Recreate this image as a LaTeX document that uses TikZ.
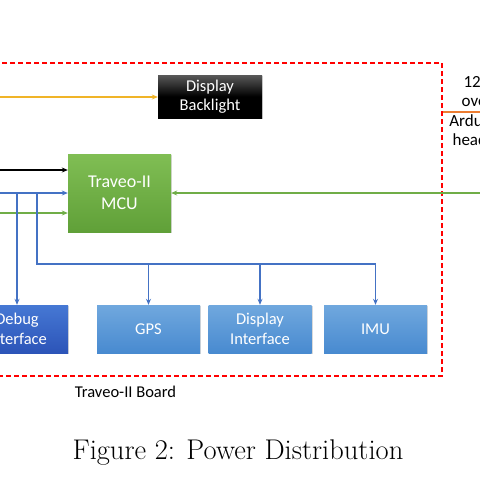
\documentclass[tikz,border=0pt]{standalone}
\usepackage{fontspec}
\newfontfamily\boxfont{Carlito}
\usetikzlibrary{arrows.meta, shadows}
\definecolor{brdred}{RGB}{255, 0, 0}
\definecolor{pwryellow}{RGB}{240, 180, 40}
\definecolor{pwrorange}{RGB}{237, 125, 49}
\definecolor{pwrgreen}{RGB}{112, 173, 71}
\definecolor{pwrblue}{RGB}{68, 114, 196}
\definecolor{mcutop}{RGB}{128, 190, 84}
\definecolor{mcubot}{RGB}{96, 160, 56}
\definecolor{modtop}{RGB}{112, 168, 222}
\definecolor{modbot}{RGB}{72, 138, 208}
\definecolor{dbgtop}{RGB}{70, 120, 212}
\definecolor{dbgbot}{RGB}{44, 84, 184}

\begin{document}
\begin{tikzpicture}[x=1pt, y=-1pt, >={Stealth[length=6pt, width=5pt]}]

% === Marco ===
\useasboundingbox (0,0) rectangle (480,480);
\clip (0,0) rectangle (480,480);

% === Estilos ===
\tikzset{
    modbox/.style={minimum width=103pt, minimum height=48pt, inner sep=2pt,
        align=center, text=white, font=\boxfont\fontsize{16.5}{19.5}\selectfont,
        drop shadow={opacity=0.3, shadow xshift=1pt, shadow yshift=-1.2pt}},
    bluebox/.style={modbox, top color=modtop, bottom color=modbot},
    wire/.style={line width=1.4pt},
}

% === Placa ===
\node[draw=brdred, line width=1.6pt, dash pattern=on 5pt off 3pt,
    minimum width=452pt, minimum height=313pt] (board) at (216, 219.5) {};
\node[font=\boxfont\fontsize{16.5}{19.5}\selectfont] (brdlbl) at (125.5, 392) {Traveo-II Board};

% === Bloques ===
\node[modbox, minimum width=104pt, minimum height=43pt,
    top color=black!65, bottom color=black, middle color=black] (blight) at (210, 96.5) {Display\\Backlight};
\node[modbox, minimum height=78pt, top color=mcutop, bottom color=mcubot,
    font=\boxfont\fontsize{18}{22}\selectfont] (mcu) at (119.5, 193) {Traveo-II\\MCU};
\node[modbox, minimum width=102pt, top color=dbgtop, bottom color=dbgbot] (dbg) at (17, 329) {Debug\\Interface};
\node[bluebox] (gps) at (148.5, 329) {GPS};
\node[bluebox] (disp) at (260, 329) {Display\\Interface};
\node[bluebox] (imu) at (375.5, 329) {IMU};

% Texto de la alimentacion externa
\node[font=\boxfont\fontsize{17}{19.5}\selectfont, align=center] (hdr) at (477, 111) {12V\\over\\Arduino\\header};

% === Puntos de entrada / ramificacion ===
\coordinate (ylwin) at (-5, 97);
\coordinate (blkin) at (-5, 170);
\coordinate (bluin) at (-5, 193);
\coordinate (grnin) at (-5, 213);
\coordinate (brkA) at (17, 193);
\coordinate (brkB) at (37, 193);
\coordinate (busL) at (37, 264);
\coordinate (busR) at (375.5, 264);
\coordinate (grnR) at (490, 193);
\coordinate (orgR) at (490, 112);

% === Conexiones ===
\draw[wire, pwryellow, ->] (ylwin) -- (ylwin -| blight.west);
\draw[wire, black, ->] (blkin) -- (blkin -| mcu.west);
\draw[wire, pwrblue, ->] (bluin) -- (bluin -| mcu.west);
\draw[wire, pwrgreen, ->] (grnin) -- (grnin -| mcu.west);
\draw[wire, pwrgreen, ->] (grnR) -- (grnR -| mcu.east);
\draw[wire, pwrorange] (orgR -| board.east) -- (orgR);

% Bus azul hacia los perifericos
\draw[wire, pwrblue, ->] (brkA) -- (dbg.north);
\draw[wire, pwrblue] (brkB) -- (busL) -- (busR);
\draw[wire, pwrblue, ->] (busL -| gps.north) -- (gps.north);
\draw[wire, pwrblue, ->] (busL -| disp.north) -- (disp.north);
\draw[wire, pwrblue, ->] (busR) -- (imu.north);

% === Leyenda ===
\node[font=\fontsize{28.5}{34}\selectfont] (caption) at (238, 453) {Figure 2: Power Distribution};

\end{tikzpicture}
\end{document}
